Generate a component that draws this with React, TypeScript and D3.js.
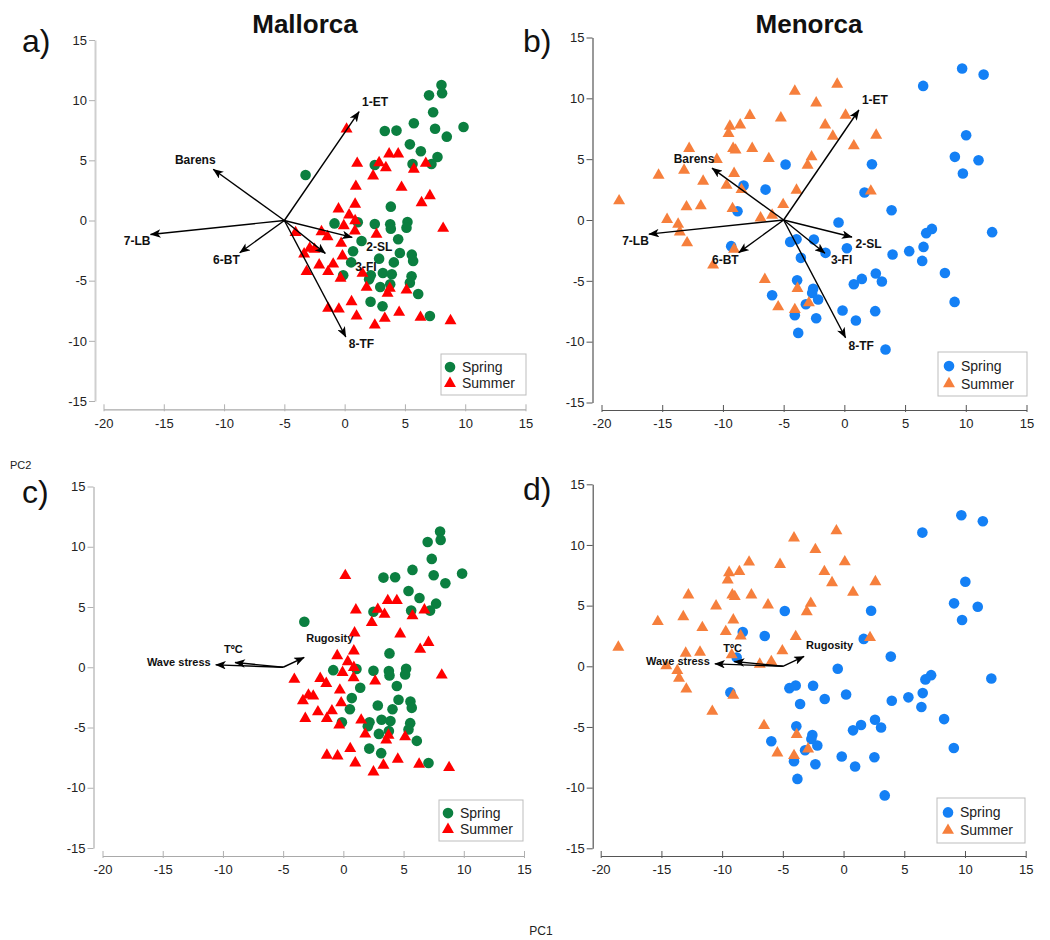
import { useEffect, useRef } from 'react'
import * as d3 from 'd3'

type Pt = [number, number]

const xTicks = [-20, -15, -10, -5, 0, 5, 10, 15]
const yTicks = [-15, -10, -5, 0, 5, 10, 15]
const seasons = ['Spring', 'Summer']

// PCA scores (PC1, PC2)
const mallorcaSpring: Pt[] = [
  [8.03, 11.26], [7.0, 10.4], [8.08, 10.57], [7.34, 8.99], [5.74, 8.08], [3.33, 7.44],
  [4.3, 7.47], [7.5, 7.63], [9.86, 7.77], [8.47, 6.97], [5.41, 6.33], [6.32, 5.75],
  [7.7, 5.28], [2.5, 4.61], [5.63, 4.7], [7.2, 4.7], [-3.24, 3.78], [3.83, 1.15],
  [-0.84, -0.24], [1.09, -0.15], [2.5, -0.29], [3.78, -0.32], [3.83, -0.68], [5.21, -0.12],
  [5.13, -0.6], [4.44, -1.56], [1.4, -1.7], [0.7, -2.56], [4.58, -2.7], [5.57, -2.84],
  [5.68, -3.37], [2.86, -3.17], [4.08, -3.48], [0.54, -3.48], [-0.12, -4.56], [2.17, -4.56],
  [2.03, -4.89], [3.17, -4.36], [3.91, -4.47], [5.55, -4.64], [5.41, -5.17], [2.95, -5.53],
  [3.78, -5.3], [6.1, -6.11], [2.15, -6.75], [3.14, -7.13], [7.07, -7.94],
]

const mallorcaSummer: Pt[] = [
  [0.16, 7.6], [3.69, 5.53], [4.44, 5.53], [1.04, 4.75], [2.86, 4.8], [3.42, 4.39],
  [6.73, 4.75], [5.74, 4.26], [2.36, 3.7], [0.93, 2.84], [4.72, 2.76], [7.07, 2.06],
  [6.38, 1.48], [-0.51, 0.96], [0.87, 1.35], [0.37, 0.46], [0.87, -0.02], [-0.07, -0.43],
  [0.85, -0.87], [2.64, -1.15], [8.17, -0.65], [-4.07, -1.01], [-1.92, -0.93], [-1.42, -1.35],
  [-0.29, -1.9], [-2.9, -2.31], [-2.5, -2.4], [-3.36, -2.78], [-0.18, -2.95], [-2.11, -3.7],
  [-0.95, -3.62], [-1.37, -4.25], [-3.16, -4.25], [-0.34, -4.8], [1.48, -4.39], [1.82, -5.55],
  [3.75, -5.64], [3.56, -6.05], [5.13, -5.78], [0.57, -6.75], [-1.37, -7.3], [-0.48, -7.36],
  [0.99, -7.94], [3.33, -8.13], [4.52, -7.63], [2.5, -8.69], [6.29, -8.05], [8.78, -8.33],
]

const menorcaSpring: Pt[] = [
  [9.7, 12.45], [11.47, 11.95], [6.49, 11.02], [10.03, 6.97], [9.1, 5.19], [11.05, 4.91],
  [9.76, 3.82], [-4.84, 4.56], [2.27, 4.58], [-8.3, 2.83], [-6.49, 2.5], [1.66, 2.26],
  [3.89, 0.8], [-8.8, 0.72], [-0.48, -0.2], [7.21, -0.73], [6.74, -1.08], [12.17, -1.0],
  [-4.46, -1.8], [-3.94, -1.58], [-2.51, -1.6], [0.21, -2.32], [-1.55, -2.7], [-9.32, -2.15],
  [-3.58, -3.11], [3.97, -2.84], [5.34, -2.56], [6.52, -2.21], [6.41, -3.36], [8.28, -4.35],
  [-3.89, -4.95], [2.59, -4.4], [3.09, -5.05], [0.78, -5.28], [1.44, -4.84], [-2.57, -5.66],
  [-2.65, -5.99], [-5.95, -6.18], [-2.16, -6.53], [-3.17, -6.92], [-4.08, -7.82], [-2.32, -8.07],
  [-0.15, -7.44], [0.95, -8.26], [2.54, -7.49], [9.08, -6.73], [-3.8, -9.28], [3.39, -10.64],
]

const menorcaSummer: Pt[] = [
  [-0.59, 11.16], [-4.08, 10.58], [-2.32, 9.62], [0.1, 8.61], [-7.78, 8.59], [-5.23, 8.39],
  [-9.43, 7.71], [-8.58, 7.81], [-1.58, 7.81], [-9.54, 7.11], [-0.95, 6.89], [2.62, 6.97],
  [0.78, 6.09], [-12.78, 5.88], [-9.16, 5.88], [-8.96, 5.74], [-7.59, 5.88], [-10.5, 4.97],
  [-6.22, 5.05], [-2.7, 5.19], [-3.03, 4.5], [-15.3, 3.68], [-13.2, 4.09], [-9.08, 3.82],
  [-11.63, 3.19], [-9.7, 2.86], [-8.47, 2.5], [-3.94, 2.45], [2.18, 2.37], [-18.55, 1.57],
  [-13.0, 1.08], [-11.82, 1.16], [-9.21, 0.94], [-5.04, 1.27], [-6.9, 0.17], [-5.95, 0.39],
  [-14.6, 0.04], [-13.69, -0.35], [-13.55, -0.98], [-12.95, -1.88], [-9.08, -2.4], [-10.81, -3.71],
  [-6.55, -4.89], [-3.86, -5.63], [-5.45, -7.14], [-4.08, -7.36], [-2.92, -6.81],
]

const vectorOrigin: Pt = [-5, 0]
const bioVectorNames = ['1-ET', 'Barens', '7-LB', '6-BT', '2-SL', '3-FI', '8-TF']
const bioVectorTips: Pt[] = [
  [1.2, 9.04], [-10.9, 4.26], [-16.1, -1.16], [-8.7, -2.68], [0.63, -1.4], [-1.6, -2.73], [0.1, -9.68],
]
const envVectorNames = ['Rugosity', 'Wave stress', 'TºC']
const envVectorTips: Pt[] = [[-3.25, 0.82], [-10.6, 0.2], [-9.0, 0.4]]

type LabelPos = { dx: number; dy: number; anchor: string }
type Legend = { x: number; y: number; w: number; h: number }

type PanelCfg = {
  letter: string
  title?: string
  spring: Pt[]
  summer: Pt[]
  names: string[]
  tips: Pt[]
  labels: Record<string, LabelPos>
  labelSize: number
  springColor: string
  summerColor: string
  light: boolean
  xr: [number, number]
  yr: [number, number]
  spineX: number
  spineY: number
  legend: Legend
  letterPos: [number, number]
  titleX?: number
}

const FONT = "'Liberation Sans', Arial, Helvetica, sans-serif"
const GREEN = '#0b7f40'
const RED = '#ff0000'
const BLUE = '#1480f5'
const ORANGE = '#f67f3c'

const labelsA: Record<string, LabelPos> = {
  '1-ET': { dx: 3, dy: -10, anchor: 'start' },
  Barens: { dx: -18, dy: -9, anchor: 'middle' },
  '7-LB': { dx: 0, dy: 6.5, anchor: 'end' },
  '6-BT': { dx: 0, dy: 7, anchor: 'end' },
  '2-SL': { dx: 14, dy: 9, anchor: 'start' },
  '3-FI': { dx: 30, dy: 13, anchor: 'start' },
  '8-TF': { dx: 3, dy: 7, anchor: 'start' },
}
const labelsB: Record<string, LabelPos> = {
  ...labelsA,
  '2-SL': { dx: 3.5, dy: 6.6, anchor: 'start' },
  '3-FI': { dx: 6, dy: 7, anchor: 'start' },
  '8-TF': { dx: 3, dy: 8, anchor: 'start' },
}
const labelsC: Record<string, LabelPos> = {
  Rugosity: { dx: 2, dy: -19, anchor: 'start' },
  'Wave stress': { dx: -5, dy: -3, anchor: 'end' },
  'TºC': { dx: -11, dy: -13, anchor: 'start' },
}
const labelsD: Record<string, LabelPos> = {
  ...labelsC,
  Rugosity: { dx: 2, dy: -11, anchor: 'start' },
}

const panels: PanelCfg[] = [
  {
    letter: 'a)', title: 'Mallorca', spring: mallorcaSpring, summer: mallorcaSummer,
    names: bioVectorNames, tips: bioVectorTips, labels: labelsA, labelSize: 12,
    springColor: GREEN, summerColor: RED, light: true,
    xr: [103.5, 525.5], yr: [401, 40], spineX: 95, spineY: 409.3,
    legend: { x: 441, y: 354, w: 85, h: 41 }, letterPos: [22, 52], titleX: 305,
  },
  {
    letter: 'b)', title: 'Menorca', spring: menorcaSpring, summer: menorcaSummer,
    names: bioVectorNames, tips: bioVectorTips, labels: labelsB, labelSize: 12,
    springColor: BLUE, summerColor: ORANGE, light: false,
    xr: [601.5, 1026.5], yr: [402.5, 37.5], spineX: 592.5, spineY: 410,
    legend: { x: 938, y: 352, w: 89, h: 44 }, letterPos: [523, 52], titleX: 809,
  },
  {
    letter: 'c)', spring: mallorcaSpring, summer: mallorcaSummer,
    names: envVectorNames, tips: envVectorTips, labels: labelsC, labelSize: 11,
    springColor: GREEN, summerColor: RED, light: true,
    xr: [102.5, 524], yr: [848, 486.5], spineX: 93.5, spineY: 856,
    legend: { x: 439, y: 800, w: 84, h: 41 }, letterPos: [22, 503],
  },
  {
    letter: 'd)', spring: menorcaSpring, summer: menorcaSummer,
    names: envVectorNames, tips: envVectorTips, labels: labelsD, labelSize: 11,
    springColor: BLUE, summerColor: ORANGE, light: false,
    xr: [600.7, 1025.7], yr: [848.3, 484.3], spineX: 592.7, spineY: 856,
    legend: { x: 937, y: 798, w: 88, h: 45 }, letterPos: [523, 500],
  },
]

function drawPanel(svg: d3.Selection<SVGSVGElement, unknown, null, undefined>, p: PanelCfg) {
  const x = d3.scaleLinear().domain([-20, 15]).range(p.xr)
  const y = d3.scaleLinear().domain([-15, 15]).range(p.yr)
  const g = svg.append('g')

  const spineColor = p.light ? '#cfcfcf' : '#555'
  const bottomColor = p.light ? '#a9a9a9' : '#555'
  const tickColor = p.light ? '#b0b0b0' : '#555'
  const fmt = (d: d3.NumberValue) => String(d)

  // left axis, offset from the plot
  g.append('g')
    .attr('transform', `translate(${p.spineX},0)`)
    .call(d3.axisLeft(y).tickValues(yTicks).tickFormat(fmt).tickSize(6).tickSizeOuter(0).tickPadding(2))
    .call((s) => s.select('.domain').attr('stroke', spineColor).attr('stroke-width', p.light ? 2 : 1.2))
    .call((s) => s.selectAll('.tick line').attr('stroke', tickColor))
    .call((s) =>
      s.selectAll('.tick text').attr('fill', '#222').style('font-size', '13px').style('font-family', FONT)
    )

  // bottom axis
  g.append('g')
    .attr('transform', `translate(0,${p.spineY})`)
    .call(d3.axisBottom(x).tickValues(xTicks).tickFormat(fmt).tickSize(0).tickSizeOuter(0).tickPadding(9))
    .call((s) => s.select('.domain').attr('stroke', bottomColor).attr('stroke-width', 1.2))
    .call((s) => s.selectAll('.tick line').attr('stroke', tickColor).attr('y1', 2).attr('y2', -5))
    .call((s) =>
      s.selectAll('.tick text').attr('fill', '#222').style('font-size', '13px').style('font-family', FONT)
    )

  // points
  g.append('g')
    .selectAll('circle')
    .data(p.spring)
    .join('circle')
    .attr('cx', (d) => x(d[0]))
    .attr('cy', (d) => y(d[1]))
    .attr('r', 5.3)
    .attr('fill', p.springColor)

  const tri = d3.symbol().type(d3.symbolTriangle).size(62)
  g.append('g')
    .selectAll('path')
    .data(p.summer)
    .join('path')
    .attr('d', tri)
    .attr('transform', (d) => `translate(${x(d[0])},${y(d[1])})`)
    .attr('fill', p.summerColor)

  // loading vectors
  const ox = x(vectorOrigin[0])
  const oy = y(vectorOrigin[1])
  const vg = g.append('g')
  p.names.forEach((name, i) => {
    const tx = x(p.tips[i][0])
    const ty = y(p.tips[i][1])
    vg.append('line')
      .attr('x1', ox)
      .attr('y1', oy)
      .attr('x2', tx)
      .attr('y2', ty)
      .attr('stroke', '#000')
      .attr('stroke-width', 1.4)
      .attr('marker-end', 'url(#arrowhead)')
    const lp = p.labels[name]
    vg.append('text')
      .attr('x', tx + lp.dx)
      .attr('y', ty + lp.dy)
      .attr('dy', '0.35em')
      .attr('text-anchor', lp.anchor)
      .style('font-family', FONT)
      .style('font-size', `${p.labelSize}px`)
      .style('font-weight', '700')
      .attr('fill', '#111')
      .text(name)
  })

  // legend
  const L = p.legend
  const lg = g.append('g').attr('transform', `translate(${L.x},${L.y})`)
  lg.append('rect')
    .attr('width', L.w)
    .attr('height', L.h)
    .attr('fill', '#fff')
    .attr('stroke', '#bdbdbd')
    .attr('stroke-width', 1)
  const rowY = [L.h * 0.32, L.h * 0.72]
  const mx = L.w > 86 ? 11 : 9
  lg.append('circle').attr('cx', mx).attr('cy', rowY[0]).attr('r', 5.3).attr('fill', p.springColor)
  lg.append('path')
    .attr('d', tri)
    .attr('transform', `translate(${mx},${rowY[1]})`)
    .attr('fill', p.summerColor)
  seasons.forEach((s, i) => {
    lg.append('text')
      .attr('x', mx + 12)
      .attr('y', rowY[i])
      .attr('dy', '0.35em')
      .style('font-family', FONT)
      .style('font-size', '14px')
      .attr('fill', '#222')
      .text(s)
  })

  // panel letter + title
  svg.append('text')
    .attr('x', p.letterPos[0])
    .attr('y', p.letterPos[1])
    .style('font-family', FONT)
    .style('font-size', '32px')
    .attr('fill', '#111')
    .text(p.letter)
  if (p.title) {
    svg.append('text')
      .attr('x', p.titleX || 0)
      .attr('y', 33)
      .attr('text-anchor', 'middle')
      .style('font-family', FONT)
      .style('font-size', '26px')
      .style('font-weight', '700')
      .attr('fill', '#111')
      .text(p.title)
  }
}

function PcaPanels() {
  const ref = useRef<SVGSVGElement>(null)

  useEffect(() => {
    const el = ref.current
    if (!el) return
    const svg = d3.select(el)
    svg.selectAll('*').remove()

    svg.append('defs')
      .append('marker')
      .attr('id', 'arrowhead')
      .attr('markerUnits', 'userSpaceOnUse')
      .attr('viewBox', '0 0 10 8')
      .attr('refX', 9.5)
      .attr('refY', 4)
      .attr('markerWidth', 11)
      .attr('markerHeight', 8.5)
      .attr('orient', 'auto')
      .append('path')
      .attr('d', 'M0,0 L10,4 L0,8 L2.5,4 Z')
      .attr('fill', '#000')

    panels.forEach((p) => drawPanel(svg, p))

    svg.append('text')
      .attr('x', 10)
      .attr('y', 469)
      .style('font-family', FONT)
      .style('font-size', '11px')
      .attr('fill', '#222')
      .text('PC2')
    svg.append('text')
      .attr('x', 541)
      .attr('y', 935)
      .attr('text-anchor', 'middle')
      .style('font-family', FONT)
      .style('font-size', '12px')
      .attr('fill', '#222')
      .text('PC1')

    return () => {
      svg.selectAll('*').remove()
    }
  }, [])

  return (
    <svg
      ref={ref}
      width={1050}
      height={940}
      style={{ position: 'absolute', left: 0, top: 0, background: '#fff' }}
    />
  )
}

export default function App() {
  return <PcaPanels />
}
